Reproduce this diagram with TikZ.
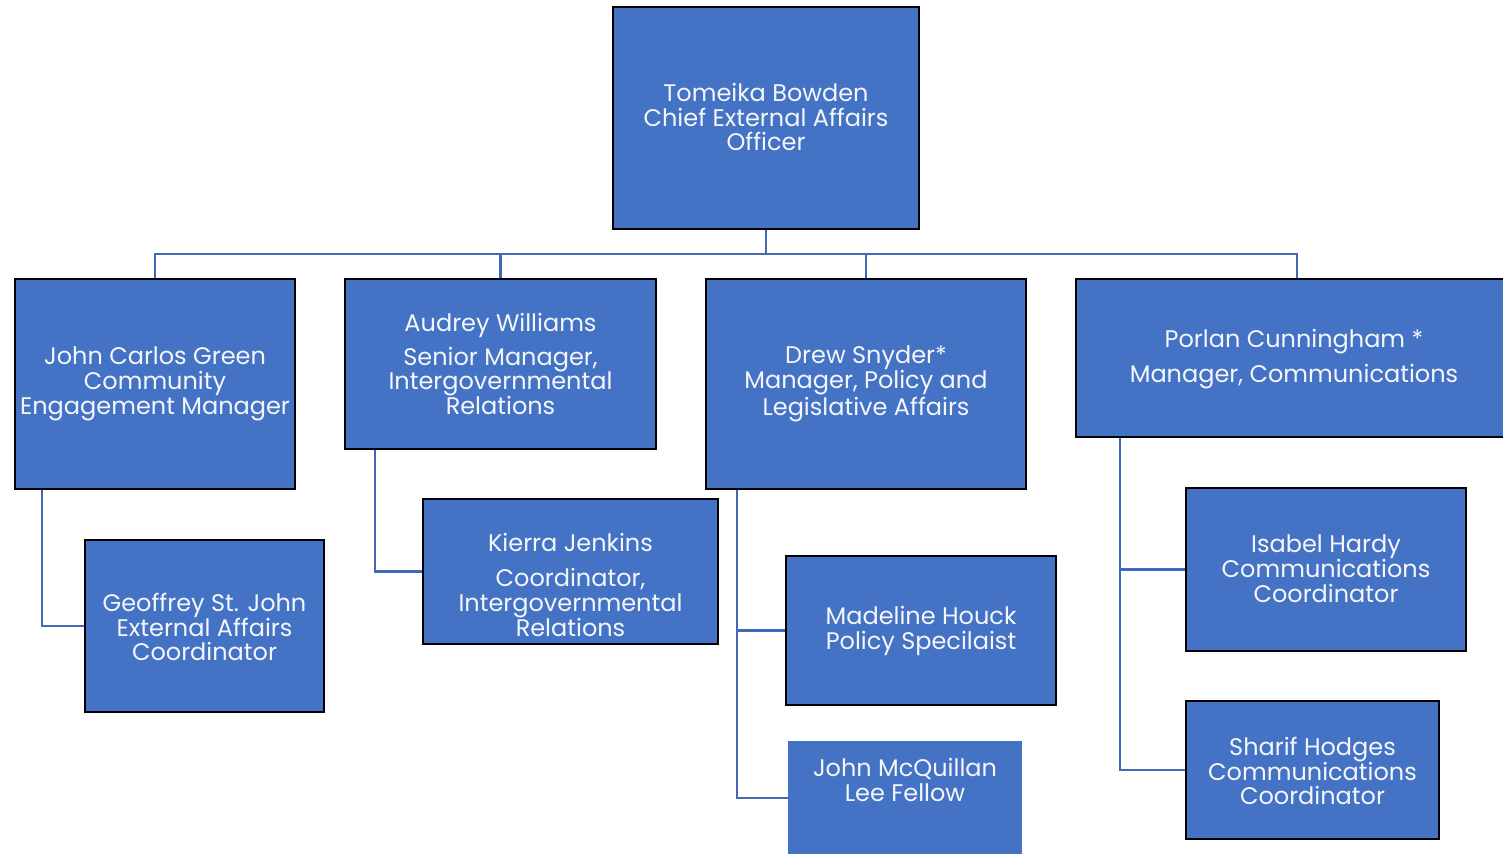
\documentclass[tikz,border=0pt]{standalone}
\usepackage{fontspec}
\setmainfont{Poppins}
\definecolor{boxblue}{HTML}{4472C4}
\definecolor{linkblue}{HTML}{4169B8}
\definecolor{softwhite}{HTML}{F4F6FA}
\begin{document}
\begin{tikzpicture}[x=0.5pt,y=-0.5pt,
  box/.style={rectangle, fill=boxblue, draw=black, line width=1.2pt, inner sep=0pt},
  plainbox/.style={rectangle, fill=boxblue, draw=none, inner sep=0pt},
  txt/.style={text=softwhite, align=center, font=\fontsize{12}{12.4}\selectfont, inner sep=0pt},
  link/.style={draw=linkblue, line width=1.2pt}]
\useasboundingbox (0,0) rectangle (1503,854);
\clip (0,0) rectangle (1503,854);

% head of the department
\node[box, minimum width=153pt, minimum height=111pt] (top) at (766,118) {};
\node[txt] (toptxt) at (766,117) {Tomeika Bowden\\Chief External Affairs\\Officer};

% managers
\node[box, minimum width=140pt, minimum height=105pt] (jcg) at (155,384) {};
\node[txt] (jcgtxt) at (155,384) {John Carlos Green\\Community\\Engagement Manager};

\node[box, minimum width=155.5pt, minimum height=85pt] (aw) at (500.5,364) {};
\node[txt] (awtxt) at (500.5,364) {Audrey Williams\\[4.5pt]Senior Manager,\\Intergovernmental\\Relations};

\node[box, minimum width=160pt, minimum height=105pt] (ds) at (866,384) {};
\node[txt] (dstxt) at (866,384) {Drew Snyder*\\Manager, Policy and\\Legislative Affairs};

\node[box, minimum width=221pt, minimum height=79pt] (pc) at (1297,358) {};
\node[txt] (pctxt) at (1294,359) {Porlan Cunningham *\\[5pt]Manager, Communications};

% staff
\node[box, minimum width=119.5pt, minimum height=86pt] (gsj) at (204.5,626) {};
\node[txt] (gsjtxt) at (204.5,627) {Geoffrey St. John\\External Affairs\\Coordinator};

\node[box, minimum width=147.5pt, minimum height=72.5pt] (kj) at (570.5,571.5) {};
\node[txt] (kjtxt) at (570.5,585) {Kierra Jenkins\\[5pt]Coordinator,\\Intergovernmental\\Relations};

\node[box, minimum width=135pt, minimum height=74.5pt] (mh) at (921,630.5) {};
\node[txt] (mhtxt) at (921,631) {Madeline Houck\\Policy Specilaist};

\node[plainbox, minimum width=117pt, minimum height=57pt] (jm) at (905,798) {};
\node[txt] (jmtxt) at (905,780) {John McQuillan\\Lee Fellow};

\node[box, minimum width=140pt, minimum height=81.5pt] (ih) at (1326,569.5) {};
\node[txt] (ihtxt) at (1326,569) {Isabel Hardy\\Communications\\Coordinator};

\node[box, minimum width=126.5pt, minimum height=69pt] (sh) at (1312.5,770) {};
\node[txt] (shtxt) at (1312.5,771) {Sharif Hodges\\Communications\\Coordinator};

% reporting lines from the head
\coordinate (bus) at (0,254);
\foreach \n in {jcg,aw,ds,pc}
  \draw[link] (top.south) -- (top.south |- bus) -| (\n.north);

% reporting lines from the managers
\draw[link] ([xshift=14pt]jcg.south west) |- (gsj.west);
\draw[link] ([xshift=15.5pt]aw.south west) |- (kj.west);
\draw[link] ([xshift=16pt]ds.south west) |- (mh.west);
\draw[link] ([xshift=16pt]ds.south west) |- (jm.west);
\draw[link] ([xshift=22.5pt]pc.south west) |- (ih.west);
\draw[link] ([xshift=22.5pt]pc.south west) |- (sh.west);
\end{tikzpicture}
\end{document}
